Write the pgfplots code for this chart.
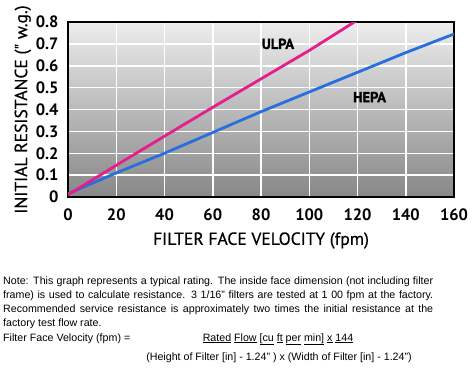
\documentclass[border=0pt]{standalone}
\usepackage{fontspec}
\setmainfont{Liberation Sans}
\newfontfamily\chartfont{PT Sans}
\newfontfamily\labelfont[FakeBold=0.5]{PT Sans}
\newfontfamily\seriesfont[FakeBold=1.2]{PT Sans Bold}
\usepackage{pgfplots}
\pgfplotsset{compat=1.18}
\definecolor{ulpa}{RGB}{228,30,140}
\definecolor{hepa}{RGB}{40,110,220}
\begin{document}
\begin{tikzpicture}[x=1bp,y=1bp]
\useasboundingbox (0,0) rectangle (474,372);
\begin{axis}[
  at={(68bp,175bp)}, anchor=south west,
  scale only axis, width=386bp, height=175bp,
  xmin=0, xmax=160, ymin=0, ymax=0.8,
  xtick={0,20,40,60,80,100,120,140,160},
  ytick={0,0.1,0.2,0.3,0.4,0.5,0.6,0.7,0.8},
  yticklabels={0,0.1,0.2,0.3,0.4,0.5,0.6,0.7,0.8},
  major tick length=0pt,
  grid=major,
  grid style={white, line width=1.5bp},
  axis line style={black, line width=1.2bp},
  axis background/.style={top color=black!7, bottom color=black!47},
  /pgf/number format/assume math mode=true,
  tick label style={font=\chartfont\bfseries\fontsize{16.5}{16.5}\selectfont},
  xticklabel style={yshift=-8bp},
  yticklabel style={xshift=-6bp},
  xlabel={FILTER FACE VELOCITY (fpm)},
  ylabel={INITIAL RESISTANCE (" w.g.)},
  label style={font=\labelfont\fontsize{17.6}{17.6}\selectfont},
  xlabel style={yshift=-5bp},
  ylabel style={yshift=-2bp},
  clip=true,
]
\addplot[hepa, line width=2.8bp] coordinates {(0,0.015) (20,0.11) (40,0.2) (60,0.295) (80,0.39) (100,0.48) (120,0.57) (140,0.66) (160,0.745)};
\addplot[ulpa, line width=2.8bp] coordinates {(0,0.01) (20,0.145) (40,0.278) (60,0.41) (80,0.54) (100,0.67) (118.7,0.8) (121,0.815)};
\node[font=\seriesfont\fontsize{14.5}{14.5}\selectfont] at (axis cs:87,0.70) {ULPA};
\node[font=\seriesfont\fontsize{14.5}{14.5}\selectfont] at (axis cs:125,0.457) {HEPA};
\end{axis}
\begin{scope}[font=\fontsize{10.7}{12}\selectfont, inner sep=0pt]
\node[anchor=base west] at (3,88) {\makebox[430bp][s]{Note: This graph represents a typical rating. The inside face dimension (not including filter}};
\node[anchor=base west] at (3,74) {\makebox[430bp][s]{frame) is used to calculate resistance. 3 1/16" filters are tested at 1 00 fpm at the factory.}};
\node[anchor=base west] at (3,60) {\makebox[430bp][s]{Recommended service resistance is approximately two times the initial resistance at the}};
\node[anchor=base west] at (3,46) {factory test flow rate.};
\node[anchor=base west] at (3,31) {Filter Face Velocity (fpm) =};
\node[anchor=base] at (278,31) {\underline{Rated} \underline{Flow} \underline{[cu} \underline{ft} \underline{per} \underline{min]} \underline{x} \underline{144}};
\node[anchor=base] at (279,12) {(Height of Filter [in] - 1.24" ) x (Width of Filter [in] - 1.24")};
\end{scope}
\end{tikzpicture}
\end{document}
